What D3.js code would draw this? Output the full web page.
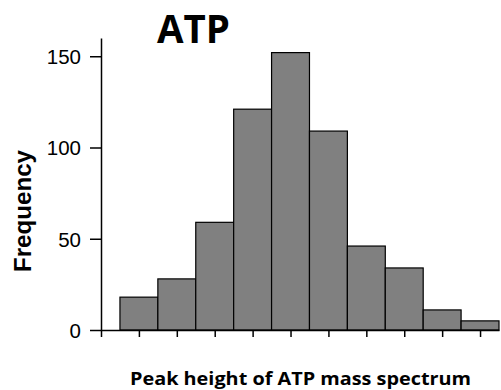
<!DOCTYPE html>
<html>
<head>
<meta charset="utf-8">
<script src="https://cdn.jsdelivr.net/npm/d3@7"></script>
<style>
  html, body { margin: 0; padding: 0; background: #fff; }
  svg { display: block; }
</style>
</head>
<body>
<svg id="chart" width="501" height="390"></svg>
<script>
// Data
const binIndex = [1, 2, 3, 4, 5, 6, 7, 8, 9, 10];
const frequency = [18, 28, 59, 121, 152, 109, 46, 34, 11, 5];
const yTicks = [0, 50, 100, 150];
const xTicks = [0, 1, 2, 3, 4, 5, 6, 7, 8, 9, 10];
const titleText = "ATP";
const xLabel = "Peak height of ATP mass spectrum";
const yLabel = "Frequency";

(function () {
const svg = d3.select("#chart");
const mLeft = 101, mRight = 499, mTop = 38, mBottom = 330;

const x = d3.scaleLinear().domain([0, 10.5]).range([mLeft, mRight]);
const y = d3.scaleLinear().domain([0, 160]).range([mBottom, mTop]);

// Bars
svg.append("g").selectAll("rect")
  .data(binIndex)
  .join("rect")
  .attr("x", (d) => x(d - 0.5))
  .attr("width", (d) => x(d + 0.5) - x(d - 0.5))
  .attr("y", (d, i) => y(frequency[i]))
  .attr("height", (d, i) => y(0) - y(frequency[i]))
  .attr("fill", "#808080")
  .attr("stroke", "#000")
  .attr("stroke-width", 1.2);

// Y axis
const yAxis = svg.append("g")
  .attr("transform", `translate(${mLeft},0)`)
  .call(d3.axisLeft(y).tickValues(yTicks).tickSize(11).tickPadding(9).tickSizeOuter(0));
yAxis.select(".domain").attr("stroke", "#000").attr("stroke-width", 1.5);
yAxis.selectAll(".tick line").attr("stroke", "#000").attr("stroke-width", 1.5);
yAxis.selectAll(".tick text")
  .attr("font-family", "'Liberation Sans', Arial, sans-serif")
  .attr("font-size", 20.5)
  .attr("fill", "#000")
  .attr("dy", "0.36em");

// X axis
const xAxis = svg.append("g")
  .attr("transform", `translate(0,${mBottom})`)
  .call(d3.axisBottom(x).tickValues(xTicks).tickFormat("").tickSize(7).tickSizeOuter(0));
xAxis.select(".domain").attr("stroke", "#000").attr("stroke-width", 1.5);
xAxis.selectAll(".tick line").attr("stroke", "#000").attr("stroke-width", 1.5);

// Title
svg.append("text")
  .attr("x", 193.5)
  .attr("y", 42.5)
  .attr("text-anchor", "middle")
  .attr("font-family", "'Open Sans', sans-serif")
  .attr("font-weight", "bold")
  .attr("font-size", 39)
  .attr("textLength", 73)
  .attr("lengthAdjust", "spacingAndGlyphs")
  .text(titleText);

// X label
svg.append("text")
  .attr("x", 300.5)
  .attr("y", 384.5)
  .attr("text-anchor", "middle")
  .attr("font-family", "'Open Sans', sans-serif")
  .attr("font-weight", "bold")
  .attr("font-size", 18.5)
  .attr("textLength", 341)
  .attr("lengthAdjust", "spacingAndGlyphs")
  .text(xLabel);

// Y label
svg.append("text")
  .attr("transform", "translate(31,211) rotate(-90)")
  .attr("text-anchor", "middle")
  .attr("font-family", "'Liberation Sans', Arial, sans-serif")
  .attr("font-weight", "bold")
  .attr("font-size", 24)
  .attr("textLength", 122)
  .attr("lengthAdjust", "spacingAndGlyphs")
  .text(yLabel);
})();
</script>
</body>
</html>
